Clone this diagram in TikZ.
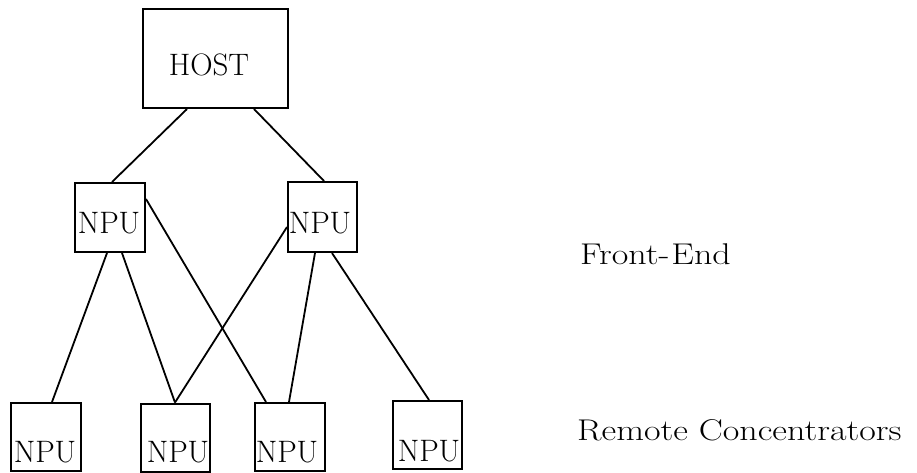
\documentclass[tikz,border=0pt]{standalone}
\usetikzlibrary{calc}
\usepackage{graphicx}
\tikzset{
  box/.style={draw, line width=2pt, rectangle, inner sep=0pt},
  lbl/.style={inner sep=0pt, font=\fontsize{31}{34}\selectfont},
  side/.style={inner sep=0pt, anchor=base west, font=\fontsize{30}{34}\selectfont},
  link/.style={line width=1.8pt}
}
\begin{document}
\begin{tikzpicture}[x=1pt,y=-1pt]
\useasboundingbox (0,0) rectangle (917,472);
% boxes
\node[box, minimum width=145pt, minimum height=99pt] (host) at (215.5,58.5) {};
\node[box, minimum width=70pt, minimum height=69pt] (m1) at (110,217.5) {};
\node[box, minimum width=69pt, minimum height=70pt] (m2) at (322.5,217) {};
\node[box, minimum width=70pt, minimum height=68pt] (b1) at (46,437) {};
\node[box, minimum width=69pt, minimum height=68pt] (b2) at (175.5,437.5) {};
\node[box, minimum width=70pt, minimum height=68pt] (b3) at (290,437) {};
\node[box, minimum width=69pt, minimum height=68pt] (b4) at (427.5,435) {};
% labels
\node[lbl] (hostt) at (209,65) {HOST};
\node[lbl] (m1t) at (109,223) {NPU};
\node[lbl] (m2t) at (320,223) {NPU};
\node[lbl] (b1t) at (45,452) {NPU};
\node[lbl] (b2t) at (178,452) {NPU};
\node[lbl] (b3t) at (287,452) {NPU};
\node[lbl] (b4t) at (429,451) {NPU};
\node[side] (fe) at (580,264) {\scalebox{1.2}[1]{Front-}\hspace{2pt}\scalebox{1.2}[1]{End}};
\node[side] (rc) at (577,440) {\scalebox{1.2}[1]{Remote Concentrators}};
% connectors
\draw[link] ($(host.south west)+(45,0)$) -- ($(m1.north west)+(38,0)$);
\draw[link] ($(host.south west)+(112,0)$) -- ($(m2.north west)+(37,0)$);
\draw[link] ($(m1.south west)+(33,0)$) -- ($(b1.north west)+(42,0)$);
\draw[link] ($(m1.south west)+(48,0)$) -- ($(b2.north west)+(35,0)$);
\draw[link] ($(m1.north east)+(0,17)$) -- ($(b3.north west)+(12,0)$);
\draw[link] ($(m2.north west)+(0,46)$) -- ($(b2.north west)+(35,0)$);
\draw[link] ($(m2.south west)+(28,0)$) -- ($(b3.north west)+(35,0)$);
\draw[link] ($(m2.south west)+(45,0)$) -- ($(b4.north west)+(37,0)$);
\end{tikzpicture}
\end{document}
